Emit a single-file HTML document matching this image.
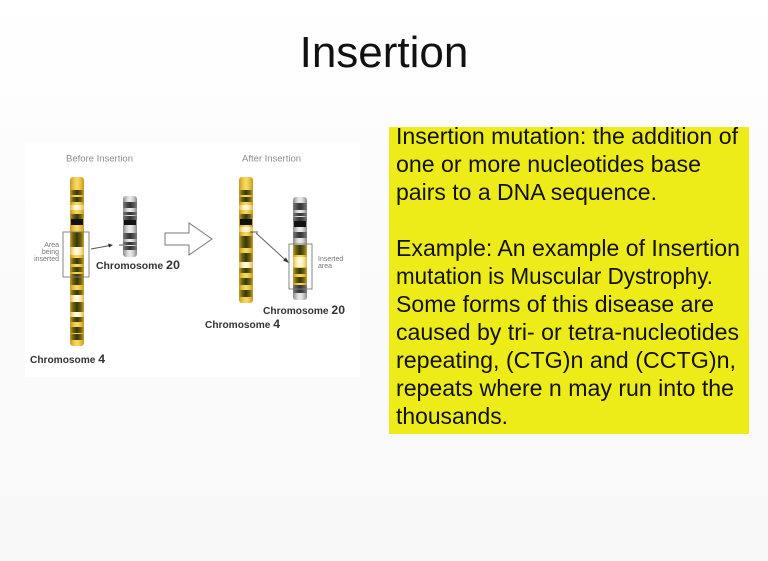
<!DOCTYPE html>
<html>
<head>
<meta charset="utf-8">
<style>
html,body{margin:0;padding:0;}
body{width:768px;height:561px;overflow:hidden;background:linear-gradient(#ffffff 0%,#fbfbfb 40%,#f8f8f8 100%);font-family:"Liberation Sans",Arial,sans-serif;}
svg{display:block;}
</style>
</head>
<body>
<svg width="768" height="561" viewBox="0 0 768 561" xmlns="http://www.w3.org/2000/svg" font-family="Liberation Sans, Arial, sans-serif">
<defs>
<linearGradient id="gy" x1="0" x2="1" y1="0" y2="0">
<stop offset="0" stop-color="#c49c22"/><stop offset="0.3" stop-color="#efc945"/><stop offset="0.5" stop-color="#f6da70"/><stop offset="0.7" stop-color="#efc945"/><stop offset="1" stop-color="#c49c22"/>
</linearGradient>
<linearGradient id="gd" x1="0" x2="1" y1="0" y2="0">
<stop offset="0" stop-color="#c8a028"/><stop offset="0.22" stop-color="#6b6414"/><stop offset="0.5" stop-color="#3a3608"/><stop offset="0.78" stop-color="#6b6414"/><stop offset="1" stop-color="#c8a028"/>
</linearGradient>
<linearGradient id="gw" x1="0" x2="1" y1="0" y2="0">
<stop offset="0" stop-color="#dcbc58"/><stop offset="0.3" stop-color="#fff0b8"/><stop offset="0.5" stop-color="#fffbe8"/><stop offset="0.7" stop-color="#fff0b8"/><stop offset="1" stop-color="#dcbc58"/>
</linearGradient>
<linearGradient id="gg" x1="0" x2="1" y1="0" y2="0">
<stop offset="0" stop-color="#8a8a8a"/><stop offset="0.3" stop-color="#d4d4d4"/><stop offset="0.5" stop-color="#eeeeee"/><stop offset="0.7" stop-color="#d4d4d4"/><stop offset="1" stop-color="#8a8a8a"/>
</linearGradient>
<linearGradient id="gk" x1="0" x2="1" y1="0" y2="0">
<stop offset="0" stop-color="#7a7a7a"/><stop offset="0.3" stop-color="#4a4a4a"/><stop offset="0.5" stop-color="#333333"/><stop offset="0.7" stop-color="#4a4a4a"/><stop offset="1" stop-color="#7a7a7a"/>
</linearGradient>
</defs>

<!-- Title -->
<text x="384" y="67" font-size="44" text-anchor="middle" fill="#111">Insertion</text>

<!-- White picture panel -->
<rect x="25" y="143" width="335" height="234" fill="#ffffff"/>

<text x="66" y="161.5" font-size="9" fill="#8a8a8a" textLength="67" lengthAdjust="spacingAndGlyphs">Before Insertion</text>
<text x="242" y="161.5" font-size="9" fill="#8a8a8a" textLength="59" lengthAdjust="spacingAndGlyphs">After Insertion</text>

<!-- Chromosome 4 before -->
<g>
<rect x="70" y="177" width="14" height="169" rx="3" fill="url(#gy)"/>
<rect x="70" y="190" width="14" height="5" fill="url(#gd)"/>
<rect x="70" y="197" width="14" height="5" fill="url(#gd)"/>
<rect x="70" y="205" width="14" height="5" fill="url(#gw)"/>
<rect x="70" y="214" width="14" height="5" fill="url(#gd)"/>
<rect x="71" y="219" width="12" height="6" fill="#111"/>
<rect x="70" y="232" width="14" height="15" fill="url(#gd)"/>
<rect x="70" y="247" width="14" height="8" fill="url(#gw)"/>
<rect x="70" y="258" width="14" height="6" fill="url(#gd)"/>
<rect x="70" y="267" width="14" height="5" fill="url(#gd)"/>
<rect x="70" y="274" width="14" height="11" fill="url(#gd)"/>
<rect x="70" y="290" width="14" height="5" fill="url(#gd)"/>
<rect x="70" y="295" width="14" height="7" fill="url(#gw)"/>
<rect x="70" y="302" width="14" height="10" fill="url(#gd)"/>
<rect x="70" y="312" width="14" height="5" fill="url(#gw)"/>
<rect x="70" y="317" width="14" height="5" fill="url(#gd)"/>
<rect x="70" y="327" width="14" height="6" fill="url(#gd)"/>
<rect x="70" y="334" width="14" height="6" fill="url(#gd)"/>
</g>
<rect x="63" y="232" width="26" height="45" fill="none" stroke="#7a7a7a" stroke-width="0.9"/>
<text font-size="7" fill="#777" text-anchor="end"><tspan x="59" y="247">Area</tspan><tspan x="59" y="254">being</tspan><tspan x="59" y="261">inserted</tspan></text>

<!-- arrow before -->
<line x1="91" y1="249" x2="110" y2="245.5" stroke="#555" stroke-width="0.9"/>
<polygon points="113,245 108,243.5 109,247.5" fill="#333"/>
<line x1="119" y1="245" x2="128" y2="245" stroke="#444" stroke-width="0.9"/>

<!-- Chromosome 20 before -->
<g>
<rect x="123" y="196" width="14" height="61" rx="3" fill="url(#gg)"/>
<rect x="123" y="202" width="14" height="6" fill="url(#gk)"/>
<rect x="123" y="212" width="14" height="3" fill="url(#gk)"/>
<rect x="123" y="216" width="14" height="4" fill="url(#gk)"/>
<rect x="124" y="220" width="12" height="5" fill="#111"/>
<rect x="123" y="233" width="14" height="6" fill="url(#gk)"/>
<rect x="123" y="242" width="14" height="3" fill="url(#gk)"/>
<rect x="123" y="246" width="14" height="4" fill="url(#gk)"/>
</g>
<text x="96" y="269" font-size="10" font-weight="bold" fill="#333" textLength="84" lengthAdjust="spacingAndGlyphs">Chromosome <tspan font-size="12">20</tspan></text>
<text x="30" y="363" font-size="10" font-weight="bold" fill="#333" textLength="75" lengthAdjust="spacingAndGlyphs">Chromosome <tspan font-size="12">4</tspan></text>

<!-- hollow arrow -->
<polygon points="165,233 189,233 189,223 212,239 189,255 189,245 165,245" fill="#fff" stroke="#7a7a7a" stroke-width="1"/>

<!-- Chromosome 4 after -->
<g>
<rect x="239" y="177" width="14" height="126" rx="3" fill="url(#gy)"/>
<rect x="239" y="190" width="14" height="5" fill="url(#gd)"/>
<rect x="239" y="197" width="14" height="5" fill="url(#gd)"/>
<rect x="239" y="205" width="14" height="5" fill="url(#gw)"/>
<rect x="239" y="214" width="14" height="5" fill="url(#gd)"/>
<rect x="240" y="219" width="12" height="6" fill="#111"/>
<rect x="239" y="227" width="14" height="5" fill="url(#gw)"/>
<rect x="239" y="236" width="14" height="12" fill="url(#gd)"/>
<rect x="239" y="253" width="14" height="9" fill="url(#gd)"/>
<rect x="239" y="262" width="14" height="6" fill="url(#gw)"/>
<rect x="239" y="268" width="14" height="5" fill="url(#gd)"/>
<rect x="239" y="278" width="14" height="7" fill="url(#gd)"/>
<rect x="239" y="290" width="14" height="7" fill="url(#gd)"/>
</g>
<line x1="250" y1="232" x2="258" y2="232" stroke="#444" stroke-width="0.9"/>
<line x1="256" y1="233" x2="286" y2="260.5" stroke="#555" stroke-width="0.9"/>
<polygon points="289,263 283,260.5 286,257.5" fill="#333"/>

<!-- Chromosome 20 after -->
<g>
<rect x="293" y="197" width="14" height="103" rx="3" fill="url(#gg)"/>
<rect x="293" y="203" width="14" height="7" fill="url(#gk)"/>
<rect x="293" y="213" width="14" height="3" fill="url(#gk)"/>
<rect x="293" y="217" width="14" height="4" fill="url(#gk)"/>
<rect x="294" y="221" width="12" height="6" fill="#111"/>
<rect x="293" y="232" width="14" height="6" fill="url(#gk)"/>
<rect x="293" y="245" width="14" height="40" fill="url(#gy)"/>
<rect x="293" y="245" width="14" height="10" fill="url(#gd)"/>
<rect x="293" y="257" width="14" height="10" fill="url(#gw)"/>
<rect x="293" y="268" width="14" height="6" fill="url(#gd)"/>
<rect x="293" y="277" width="14" height="6" fill="url(#gd)"/>
<rect x="293" y="285" width="14" height="8" fill="url(#gk)"/>
</g>
<rect x="289" y="244" width="23" height="45" fill="none" stroke="#7a7a7a" stroke-width="0.9"/>
<text font-size="7" fill="#777"><tspan x="318" y="261">Inserted</tspan><tspan x="318" y="268">area</tspan></text>

<text x="263" y="314" font-size="10" font-weight="bold" fill="#333" textLength="82" lengthAdjust="spacingAndGlyphs">Chromosome <tspan font-size="12">20</tspan></text>
<text x="205" y="328" font-size="10" font-weight="bold" fill="#333" textLength="75" lengthAdjust="spacingAndGlyphs">Chromosome <tspan font-size="12">4</tspan></text>

<!-- Yellow text box -->
<rect x="389" y="127" width="360" height="307" fill="#eeec18"/>
<g font-size="23" fill="#111">
<text x="396" y="144" textLength="342" lengthAdjust="spacingAndGlyphs">Insertion mutation: the addition of</text>
<text x="396" y="172" textLength="305" lengthAdjust="spacingAndGlyphs">one or more nucleotides base</text>
<text x="396" y="200" textLength="261" lengthAdjust="spacingAndGlyphs">pairs to a DNA sequence.</text>
<text x="396" y="256" textLength="344" lengthAdjust="spacingAndGlyphs">Example: An example of Insertion</text>
<text x="396" y="284" textLength="317" lengthAdjust="spacingAndGlyphs">mutation is Muscular Dystrophy.</text>
<text x="396" y="312" textLength="318" lengthAdjust="spacingAndGlyphs">Some forms of this disease are</text>
<text x="396" y="340" textLength="343" lengthAdjust="spacingAndGlyphs">caused by tri- or tetra-nucleotides</text>
<text x="396" y="368" textLength="340" lengthAdjust="spacingAndGlyphs">repeating, (CTG)n and (CCTG)n,</text>
<text x="396" y="396" textLength="338" lengthAdjust="spacingAndGlyphs">repeats where n may run into the</text>
<text x="396" y="424" textLength="112" lengthAdjust="spacingAndGlyphs">thousands.</text>
</g>
</svg>
</body>
</html>
